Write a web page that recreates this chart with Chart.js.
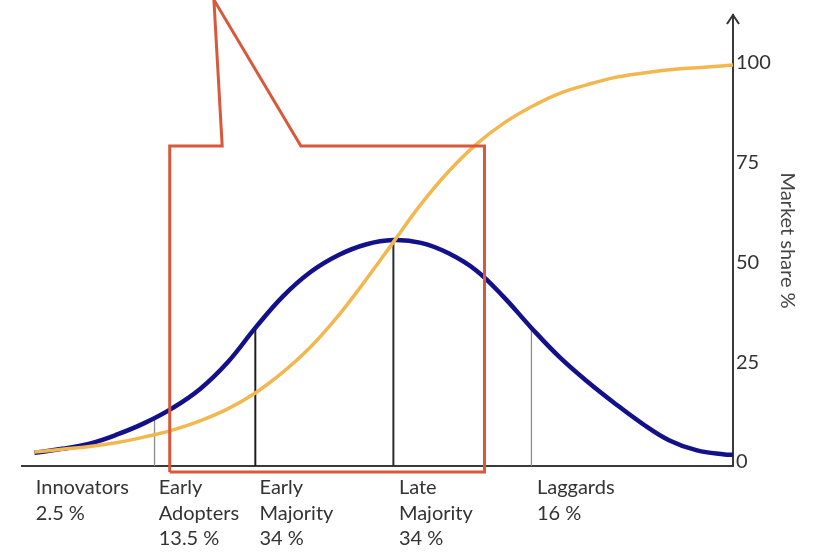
<!DOCTYPE html>
<html>
<head>
<meta charset="utf-8">
<script src="https://cdn.jsdelivr.net/npm/chart.js@4.4.1/dist/chart.umd.min.js"></script>
<style>
	html, body { margin: 0; padding: 0; background: #ffffff; }
</style>
</head>
<body>
<canvas id="CanvasAdoptionCurve" width="820" height="556"></canvas>
<script>
// x runs in standard deviations from the mean adoption time
var timeSteps = [-2.6, -2.4, -2.2, -2.0, -1.8, -1.6, -1.4, -1.2, -1.0, -0.8, -0.6, -0.4, -0.2, 0, 0.2, 0.4, 0.6, 0.8, 1.0, 1.2, 1.4, 1.6, 1.8, 2.0, 2.2, 2.4, 2.46];
var adopterShare = [2.3, 3.3, 4.6, 6.9, 9.8, 13.5, 18.3, 25.0, 33.6, 41.5, 47.6, 51.8, 54.5, 55.6, 54.9, 52.3, 48.0, 41.3, 33.6, 26.4, 20.3, 14.8, 9.7, 5.4, 2.9, 1.9, 1.8];
var cumulativeShare = [2.5, 3.2, 3.9, 4.9, 6.3, 8.0, 10.3, 13.3, 17.3, 22.5, 28.8, 36.6, 45.6, 55.1, 64.6, 72.8, 79.6, 84.9, 89.0, 92.3, 94.5, 96.3, 97.4, 98.3, 98.8, 99.3, 99.5];

// adopter groups under the axis
var segmentNames = [
	['Innovators', '2.5 %'],
	['Early', 'Adopters', '13.5 %'],
	['Early', 'Majority', '34 %'],
	['Late', 'Majority', '34 %'],
	['Laggards', '16 %']
];
var segmentLabelX = [-2.59, -1.70, -0.97, 0.04, 1.04];

// dividers between the groups, up to the bell curve
var dividerX = [-1.73, -1, 0, 1];
var dividerTop = [10.8, 33.6, 55.6, 33.6];

var yTicks = [0, 25, 50, 75, 100];

// red callout box with its pointer
var calloutX = [-1.62, -1.62, -1.24, -1.30, -0.67, 0.66, 0.66, -1.62];
var calloutY = [-2.5, 79.2, 79.2, 115.8, 79.2, 79.2, -2.5, -2.5];

var labelFont = { family: 'Lato, "Open Sans", sans-serif', size: 20 };

function toPoints(xs, ys) {
	return xs.map(function (x, i) { return { x: x, y: ys[i] }; });
}

var datasets = [];

datasets.push({
	label: 'Callout',
	data: toPoints(calloutX, calloutY),
	borderColor: '#d9583a',
	borderWidth: 3,
	borderJoinStyle: 'miter',
	pointRadius: 0,
	tension: 0,
	clip: false
});

datasets.push({
	label: 'Market share',
	data: toPoints(timeSteps, cumulativeShare),
	borderColor: '#f2b74f',
	borderWidth: 3.5,
	pointRadius: 0,
	tension: 0.4
});

datasets.push({
	label: 'Adopters',
	data: toPoints(timeSteps, adopterShare),
	borderColor: '#12108a',
	borderWidth: 4.5,
	pointRadius: 0,
	tension: 0.4
});

var dividerColors = ['#8c8c8c', '#1e1e1e', '#2a2a2a', '#8c8c8c'];
var dividerWidths = [1.3, 2, 2, 1.3];
dividerX.forEach(function (x, i) {
	datasets.push({
		label: 'Divider ' + i,
		data: [{ x: x, y: -1 }, { x: x, y: dividerTop[i] }],
		borderColor: dividerColors[i],
		borderWidth: dividerWidths[i],
		pointRadius: 0,
		tension: 0
	});
});

// little arrow head on top of the right axis
var axisArrow = {
	id: 'axisArrow',
	afterDraw: function (chart) {
		var y = chart.scales.y;
		var ctx = chart.ctx;
		var x0 = y.left;
		ctx.save();
		ctx.strokeStyle = '#333';
		ctx.lineWidth = 2;
		ctx.beginPath();
		ctx.moveTo(x0 - 6, y.top + 9);
		ctx.lineTo(x0, y.top);
		ctx.lineTo(x0 + 6, y.top + 9);
		ctx.stroke();
		ctx.restore();
	}
};

const context = document.getElementById('CanvasAdoptionCurve');
const myChart = new Chart(context, {
	type: 'line',
	data: { datasets: datasets },
	plugins: [axisArrow],
	options: {
		responsive: false,
		animation: false,
		devicePixelRatio: 1,
		layout: { padding: { left: 22, top: 15, right: 0, bottom: 0 } },
		plugins: {
			legend: { display: false },
			tooltip: { enabled: false }
		},
		scales: {
			x: {
				type: 'linear',
				min: -2.69,
				max: 2.46,
				grid: { display: false, drawTicks: false },
				border: { display: true, color: '#3a3a3a', width: 2 },
				afterBuildTicks: function (scale) {
					scale.ticks = segmentLabelX.map(function (v) { return { value: v }; });
				},
				afterFit: function (scale) { scale.height = 90; },
				ticks: {
					autoSkip: false,
					maxRotation: 0,
					align: 'start',
					padding: 9,
					color: '#333',
					font: { family: labelFont.family, size: labelFont.size, lineHeight: 1.27 },
					callback: function (value, index) { return segmentNames[index]; }
				}
			},
			y: {
				type: 'linear',
				position: 'right',
				min: -1,
				max: 112,
				grid: { display: false, drawTicks: false },
				border: { display: true, color: '#3a3a3a', width: 2 },
				afterBuildTicks: function (scale) {
					scale.ticks = yTicks.map(function (v) { return { value: v }; });
				},
				afterFit: function (scale) { scale.width = 87; },
				ticks: {
					padding: 3,
					color: '#333',
					font: labelFont
				},
				title: {
					display: true,
					text: 'Market share %',
					color: '#444',
					font: labelFont,
					padding: { top: 21, bottom: 0 }
				}
			}
		}
	}
});
</script>
</body>
</html>
